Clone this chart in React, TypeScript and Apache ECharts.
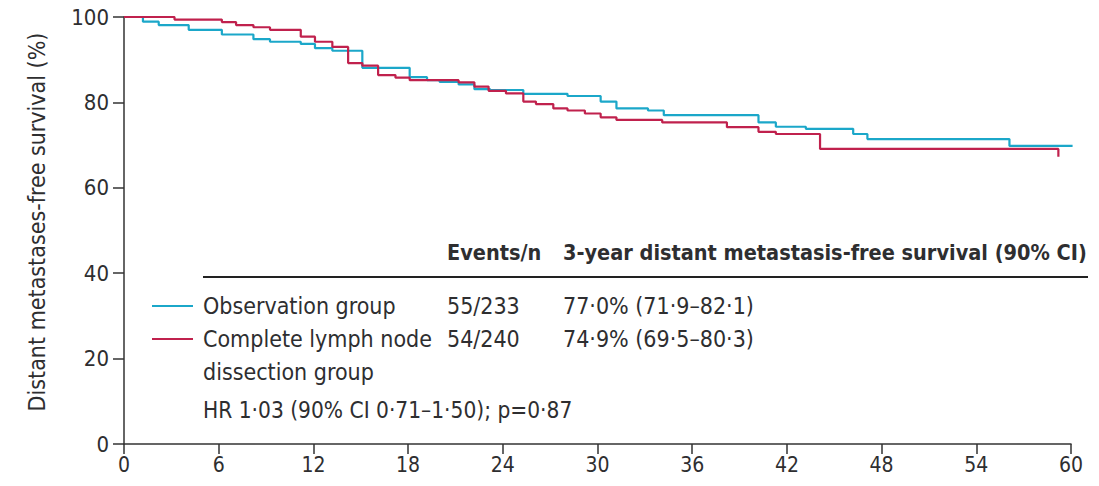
import React, { useEffect, useRef } from "react";
import * as echarts from "echarts";

// Kaplan-Meier curves (months, % surviving)
const obsTimes = [0, 1.2, 2.2, 4.1, 6.2, 8.2, 9.25, 11.2, 12.1, 13.2, 15.1, 18.1, 19.2, 20, 21.2, 22.2, 23.2, 25.3, 28.1, 30.2, 31.2, 33.2, 34.2, 40.2, 41.3, 43.2, 46.2, 47.1, 56.1, 60.1];
const obsSurv = [100, 98.9, 98.1, 97.0, 95.9, 94.8, 94.2, 93.7, 92.7, 92.1, 88.1, 85.9, 85.2, 84.8, 84.2, 83.1, 82.9, 82.0, 81.5, 80.2, 78.6, 78.1, 77.0, 75.3, 74.3, 73.8, 72.6, 71.4, 69.8, 69.8];

const clndTimes = [0, 3.2, 6.2, 7.1, 8.2, 9.25, 11.2, 12.1, 13.2, 14.2, 15.1, 16.1, 17.2, 18.1, 21.2, 22.2, 23.1, 24.2, 25.3, 26.1, 27.2, 28.1, 29.2, 30.2, 31.2, 34.1, 38.2, 40.2, 41.3, 44.1, 59.2];
const clndSurv = [100, 99.4, 98.8, 98.1, 97.6, 97.0, 95.4, 94.2, 93.0, 89.2, 88.6, 86.4, 85.8, 85.2, 84.7, 83.7, 82.7, 82.1, 80.2, 79.6, 78.6, 78.1, 77.4, 76.5, 75.9, 75.3, 74.2, 73.1, 72.6, 69.1, 67.3];

const seriesNames = ["Observation group", "Complete lymph node dissection group"];
const eventsN = ["55/233", "54/240"];
const survivalCI = ["77·0% (71·9–82·1)", "74·9% (69·5–80·3)"];
const hrText = "HR 1·03 (90% CI 0·71–1·50); p=0·87";
const xTicks = { min: 0, max: 60, interval: 6 };
const yTicks = { min: 0, max: 100, interval: 20 };

const CYAN = "#1ba7c9";
const RED = "#c0214d";
const TEXT = "#2e2e30";
const FONT = "'Liberation Sans Narrow', 'DejaVu Sans Condensed', 'Noto Sans', sans-serif";

export default function App() {
  const ref = useRef<HTMLDivElement>(null);
  useEffect(() => {
    if (!ref.current) return;
    const chart = echarts.init(ref.current, null, { renderer: "svg" });
    const obsData = obsTimes.map((t, i) => [t, obsSurv[i]]);
    const clndData = clndTimes.map((t, i) => [t, clndSurv[i]]);
    const txt = (text: string, x: number, y: number, extra: any = {}) => ({
      type: "text",
      x,
      y,
      silent: true,
      style: {
        text,
        fill: TEXT,
        fontSize: 23,
        fontFamily: FONT,
        align: "left",
        verticalAlign: "middle",
        ...extra,
      },
    });
    chart.setOption({
      animation: false,
      grid: { left: 124, right: 28, top: 17, bottom: 42, containLabel: false },
      xAxis: {
        type: "value",
        min: xTicks.min,
        max: xTicks.max,
        interval: xTicks.interval,
        splitLine: { show: false },
        axisLine: { show: true, onZero: false, lineStyle: { color: "#333", width: 1.5 } },
        axisTick: { show: true, length: 10, lineStyle: { color: "#333", width: 1.5 } },
        axisLabel: { color: TEXT, fontSize: 21, fontFamily: FONT, margin: 10 },
      },
      yAxis: {
        type: "value",
        min: yTicks.min,
        max: yTicks.max,
        interval: yTicks.interval,
        splitLine: { show: false },
        axisLine: { show: true, lineStyle: { color: "#333", width: 1.5 } },
        axisTick: { show: true, length: 11, lineStyle: { color: "#333", width: 1.5 } },
        axisLabel: { color: TEXT, fontSize: 22, fontFamily: FONT, margin: 15 },
      },
      series: [
        {
          name: seriesNames[0],
          type: "line",
          step: "end",
          data: obsData,
          symbol: "none",
          lineStyle: { color: CYAN, width: 2.2 },
          z: 2,
        },
        {
          name: seriesNames[1],
          type: "line",
          step: "end",
          data: clndData,
          symbol: "none",
          lineStyle: { color: RED, width: 2.2 },
          z: 3,
        },
      ],
      graphic: [
        {
          type: "text",
          x: 37,
          y: 222,
          rotation: Math.PI / 2,
          silent: true,
          style: {
            text: "Distant metastases-free survival (%)",
            fill: TEXT,
            fontSize: 23,
            fontFamily: FONT,
            align: "center",
            verticalAlign: "middle",
          },
        },
        txt("Events/n", 447, 252, { fontWeight: "bold", fontSize: 21.5 }),
        txt("3-year distant metastasis-free survival (90% CI)", 563, 252, { fontWeight: "bold", fontSize: 21.5 }),
        {
          type: "line",
          silent: true,
          shape: { x1: 203, y1: 277, x2: 1088, y2: 277 },
          style: { stroke: "#222", lineWidth: 2 },
        },
        {
          type: "line",
          silent: true,
          shape: { x1: 152, y1: 306, x2: 193, y2: 306 },
          style: { stroke: CYAN, lineWidth: 2 },
        },
        {
          type: "line",
          silent: true,
          shape: { x1: 152, y1: 339, x2: 193, y2: 339 },
          style: { stroke: RED, lineWidth: 2 },
        },
        txt(seriesNames[0], 203, 306),
        txt(eventsN[0], 447, 306),
        txt(survivalCI[0], 563, 306),
        txt("Complete lymph node", 203, 339),
        txt(eventsN[1], 447, 339),
        txt(survivalCI[1], 563, 339),
        txt("dissection group", 203, 372),
        txt(hrText, 203, 410, { fontSize: 22.5 }),
      ],
    });
    return () => chart.dispose();
  }, []);
  return (
    <div
      ref={ref}
      style={{ position: "absolute", left: 0, top: 0, width: 1099, height: 486, background: "#fff" }}
    />
  );
}
